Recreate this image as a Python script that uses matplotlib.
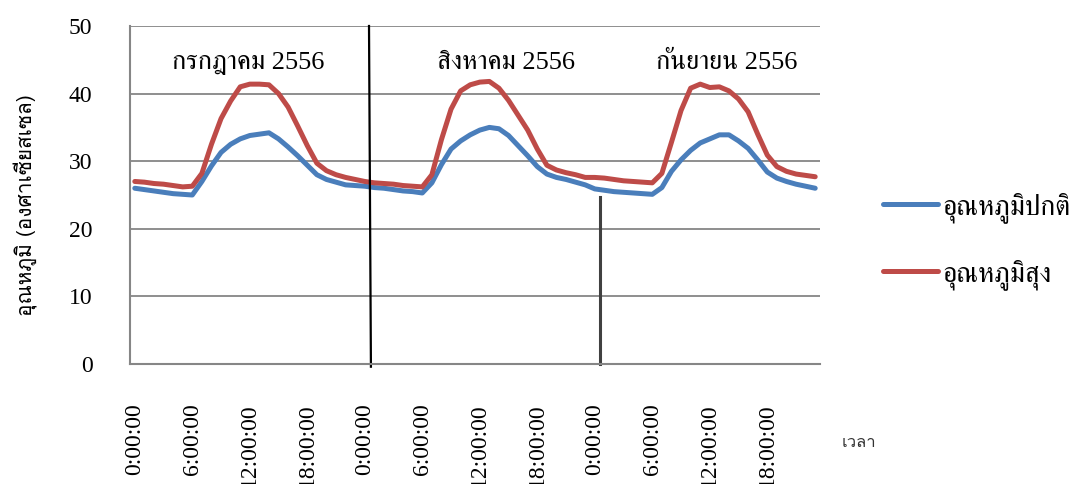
import matplotlib
matplotlib.use("Agg")
import matplotlib.pyplot as plt
import numpy as np

# hourly temperatures, 3 days (Jul / Aug / Sep 2556)
hours = ["0:00:00", "6:00:00", "12:00:00", "18:00:00"]
temp_normal = [26.0, 25.8, 25.6, 25.4, 25.2, 25.1, 25.0, 27.0, 29.3, 31.3, 32.5, 33.3,
               33.8, 34.0, 34.2, 33.3, 32.1, 30.8, 29.4, 28.0, 27.3, 26.9, 26.5, 26.4,
               26.3, 26.1, 26.0, 25.8, 25.6, 25.5, 25.3, 26.8, 29.5, 31.8, 33.0, 33.9,
               34.6, 35.0, 34.8, 33.8, 32.3, 30.8, 29.2, 28.1, 27.6, 27.3, 26.9, 26.5,
               25.9, 25.7, 25.5, 25.4, 25.3, 25.2, 25.1, 26.1, 28.5, 30.2, 31.6, 32.7,
               33.3, 33.9, 33.9, 33.0, 31.9, 30.2, 28.4, 27.5, 27.0, 26.6, 26.3, 26.0]
temp_high = [27.0, 26.9, 26.7, 26.6, 26.4, 26.2, 26.3, 28.2, 32.5, 36.3, 38.9, 41.0,
             41.4, 41.4, 41.3, 40.0, 38.0, 35.2, 32.3, 29.7, 28.6, 28.0, 27.6, 27.3,
             27.0, 26.8, 26.7, 26.6, 26.4, 26.3, 26.2, 28.0, 33.2, 37.7, 40.4, 41.3,
             41.7, 41.8, 40.8, 39.0, 36.8, 34.6, 31.8, 29.4, 28.7, 28.3, 28.0, 27.6,
             27.6, 27.5, 27.3, 27.1, 27.0, 26.9, 26.8, 28.2, 32.8, 37.5, 40.8, 41.4,
             40.9, 41.0, 40.4, 39.2, 37.3, 34.0, 30.9, 29.2, 28.5, 28.1, 27.9, 27.7]
months = ["กรกฎาคม 2556", "สิงหาคม 2556", "กันยายน 2556"]
month_x = [11.8, 38.7, 61.8]
day_breaks = [24.44, 48.54]

serif_fam = ["Liberation Serif", "FreeSerif", "DejaVu Sans"]
sans_fam = ["Loma", "DejaVu Sans"]

x = np.arange(len(temp_normal))

fig = plt.figure(figsize=(10.75, 4.84), dpi=100)
ax = fig.add_axes([130 / 1075, 120 / 484, 690 / 1075, 338 / 484])

ax.plot(x, temp_normal, color="#4A7EBB", lw=3.6, solid_capstyle="round", label="อุณหภูมิปกติ")
ax.plot(x, temp_high, color="#BE4B48", lw=3.6, solid_capstyle="round", label="อุณหภูมิสุง")

ax.set_xlim(-0.5, len(x) - 0.5)
ax.set_ylim(0, 50)
ax.set_yticks(range(0, 51, 10))
ax.yaxis.grid(True, color="#868686", lw=1.3)
ax.set_axisbelow(True)

ax.set_xticks(x[::6])
ax.set_xticklabels([hours[i % 4] for i in range(len(x[::6]))], rotation=90,
                   va="top", ha="center", family=serif_fam, fontsize=17)
for lbl in ax.get_yticklabels():
    lbl.set_family(serif_fam)
    lbl.set_fontsize(17)
ax.tick_params(axis="x", length=0, pad=28)
ax.tick_params(axis="y", length=0, pad=27)

for side in ["top", "right"]:
    ax.spines[side].set_visible(False)
for side in ["left", "bottom"]:
    ax.spines[side].set_color("#868686")
    ax.spines[side].set_linewidth(1.5)

# day separators
ax.plot([day_breaks[0], day_breaks[0] + 0.2], [50, -0.4], color="black", lw=1.6, clip_on=False)
ax.plot([day_breaks[1], day_breaks[1]], [24.7, 0], color="#404040", lw=2.2, clip_on=False)

for mx, m in zip(month_x, months):
    ax.text(mx, 44.5, m, ha="center", va="center", fontsize=19, family=serif_fam)

ax.set_ylabel("อุณหภูมิ (องศาเซียสเซล)", family=sans_fam, fontsize=15)
ax.yaxis.set_label_coords(-0.134, 0.47)

leg = ax.legend(loc="center left", bbox_to_anchor=(1.0547, 0.365), frameon=False,
                prop={"family": serif_fam, "size": 20}, handlelength=2.0,
                handletextpad=0.15, labelspacing=1.3)

fig.text(842 / 1075, 1 - 443 / 484, "เวลา", family=sans_fam, fontsize=12,
         color="#333333", va="center", ha="left")

fig.savefig("out.png", dpi=100)
